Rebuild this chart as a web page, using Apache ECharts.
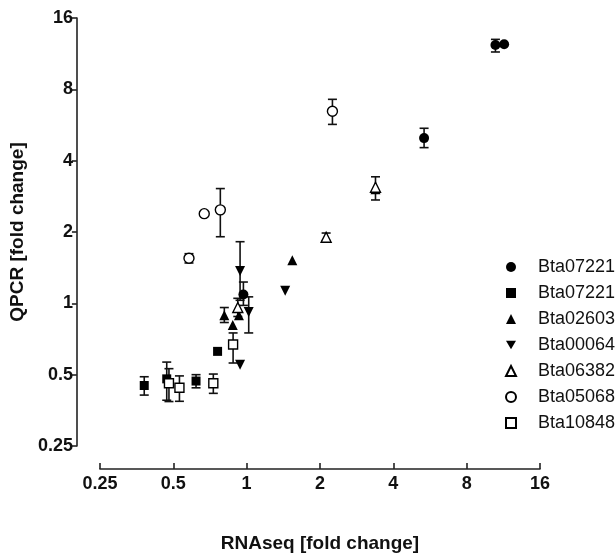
<!DOCTYPE html>
<html>
<head>
<meta charset="utf-8">
<script src="https://cdn.jsdelivr.net/npm/echarts@6/dist/echarts.min.js"></script>
<style>
html,body{margin:0;padding:0;background:#fff;}
#chart{width:615px;height:558px;}
</style>
</head>
<body>
<div id="chart"></div>
<script>
// Tick labels (log2 axes)
var tickLabels = [0.25, 0.5, 1, 2, 4, 8, 16];

// Series names (legend)
var seriesNames = ['Bta07221', 'Bta07221 ', 'Bta02603', 'Bta00064', 'Bta06382', 'Bta05068', 'Bta10848'];

// Bta07221 (filled circle)
var s1X  = [10.5, 11.4, 5.35, 0.97];
var s1Y  = [12.3, 12.4, 4.98, 1.09];
var s1Lo = [11.5, null, 4.54, 0.98];
var s1Hi = [13.0, null, 5.48, 1.23];

// Bta07221 (filled square)
var s2X  = [0.38, 0.47, 0.62, 0.76];
var s2Y  = [0.45, 0.48, 0.47, 0.627];
var s2Lo = [0.41, 0.39, 0.44, null];
var s2Hi = [0.49, 0.565, 0.50, null];

// Bta02603 (filled triangle)
var s3X  = [0.81, 0.93, 0.877, 1.54, 3.38];
var s3Y  = [0.89, 0.89, 0.81, 1.52, 3.03];
var s3Lo = [0.83, null, null, null, null];
var s3Hi = [0.96, null, null, null, null];

// Bta00064 (filled inverted triangle)
var s4X  = [0.94, 1.02, 0.94, 1.44];
var s4Y  = [1.37, 0.92, 0.55, 1.13];
var s4Lo = [1.03, 0.75, null, null];
var s4Hi = [1.82, 1.065, null, null];

// Bta06382 (open triangle)
var s5X  = [2.12, 3.38, 0.92];
var s5Y  = [1.90, 3.09, 0.96];
var s5Lo = [1.84, 2.73, 0.88];
var s5Hi = [1.98, 3.42, 1.05];

// Bta05068 (open circle)
var s6X  = [2.25, 0.67, 0.78, 0.58];
var s6Y  = [6.47, 2.39, 2.48, 1.55];
var s6Lo = [5.69, null, 1.91, 1.48];
var s6Hi = [7.26, null, 3.05, 1.62];

// Bta10848 (open square)
var s7X  = [0.48, 0.53, 0.73, 0.88];
var s7Y  = [0.46, 0.44, 0.46, 0.67];
var s7Lo = [0.385, 0.386, 0.417, 0.56];
var s7Hi = [0.53, 0.494, 0.503, 0.75];

var groups = [
  {x:s1X, y:s1Y, lo:s1Lo, hi:s1Hi, symbol:'circle', fill:'#000', size:10},
  {x:s2X, y:s2Y, lo:s2Lo, hi:s2Hi, symbol:'rect', fill:'#000', size:9},
  {x:s3X, y:s3Y, lo:s3Lo, hi:s3Hi, symbol:'triangle', fill:'#000', size:10},
  {x:s4X, y:s4Y, lo:s4Lo, hi:s4Hi, symbol:'path://M0,0L10,0L5,8.66Z', fill:'#000', size:10},
  {x:s5X, y:s5Y, lo:s5Lo, hi:s5Hi, symbol:'triangle', fill:'#fff', size:10},
  {x:s6X, y:s6Y, lo:s6Lo, hi:s6Hi, symbol:'circle', fill:'#fff', size:10},
  {x:s7X, y:s7Y, lo:s7Lo, hi:s7Hi, symbol:'rect', fill:'#fff', size:9}
];

var errData = [];
groups.forEach(function(g){
  for (var i = 0; i < g.x.length; i++) {
    if (g.lo[i] != null && g.hi[i] != null) errData.push([g.x[i], g.lo[i], g.hi[i]]);
  }
});

var series = [{
  type: 'custom',
  name: 'err',
  z: 1,
  silent: true,
  data: errData,
  encode: {x: 0, y: [1, 2]},
  renderItem: function(params, api){
    var x = api.value(0);
    var lo = api.coord([x, api.value(1)]);
    var hi = api.coord([x, api.value(2)]);
    var cw = 4.5;
    var st = {stroke:'#111', lineWidth:1.6, fill:null};
    return {type:'group', children:[
      {type:'line', shape:{x1:lo[0], y1:lo[1], x2:hi[0], y2:hi[1]}, style:st},
      {type:'line', shape:{x1:lo[0]-cw, y1:lo[1], x2:lo[0]+cw, y2:lo[1]}, style:st},
      {type:'line', shape:{x1:hi[0]-cw, y1:hi[1], x2:hi[0]+cw, y2:hi[1]}, style:st}
    ]};
  }
}];

groups.forEach(function(g, k){
  series.push({
    type: 'scatter',
    name: seriesNames[k],
    z: 3,
    symbol: g.symbol,
    symbolSize: g.size,
    itemStyle: {color: g.fill, borderColor: '#000', borderWidth: g.fill === '#fff' ? 1.4 : 0, opacity: 1},
    data: g.x.map(function(v, i){ return [v, g.y[i]]; })
  });
});

var FONT = 'Liberation Sans, Arial, sans-serif';
var chart = echarts.init(document.getElementById('chart'), null, {renderer:'canvas'});
chart.setOption({
  animation: false,
  backgroundColor: '#fff',
  grid: {left: 96, right: 75, top: 18, bottom: 98, containLabel: false},
  legend: {
    orient: 'vertical',
    left: 500,
    top: 253,
    itemWidth: 10,
    itemHeight: 10,
    itemGap: 8,
    symbolKeepAspect: true,
    data: seriesNames,
    textStyle: {fontFamily: FONT, fontSize: 18, color: '#111', padding: [0,0,0,17]}
  },
  xAxis: {
    type: 'log', logBase: 2, min: 0.25, max: 16,
    offset: 23,
    name: 'RNAseq [fold change]', nameLocation: 'middle', nameGap: 65,
    nameTextStyle: {fontFamily: FONT, fontWeight: 'bold', fontSize: 19, color: '#111'},
    axisLine: {lineStyle: {color: '#222', width: 1.6}},
    axisTick: {inside: true, length: 6, lineStyle: {color: '#222', width: 1.6}},
    minorTick: {show: false},
    splitLine: {show: false},
    axisLabel: {fontFamily: FONT, fontWeight: 'bold', fontSize: 18, color: '#111', margin: 6,
      formatter: function(v){ return String(+v.toPrecision(6)); }}
  },
  yAxis: {
    type: 'log', logBase: 2, min: 0.25, max: 16,
    offset: 23,
    name: 'QPCR [fold change]', nameLocation: 'middle', nameGap: 42,
    nameTextStyle: {fontFamily: FONT, fontWeight: 'bold', fontSize: 19, color: '#111'},
    axisLine: {lineStyle: {color: '#222', width: 1.6}},
    axisTick: {inside: false, length: 5, lineStyle: {color: '#222', width: 1.6}},
    splitLine: {show: false},
    axisLabel: {fontFamily: FONT, fontWeight: 'bold', fontSize: 18, color: '#111', margin: 4,
      formatter: function(v){ return String(+v.toPrecision(6)); }}
  },
  series: series
});
</script>
</body>
</html>
